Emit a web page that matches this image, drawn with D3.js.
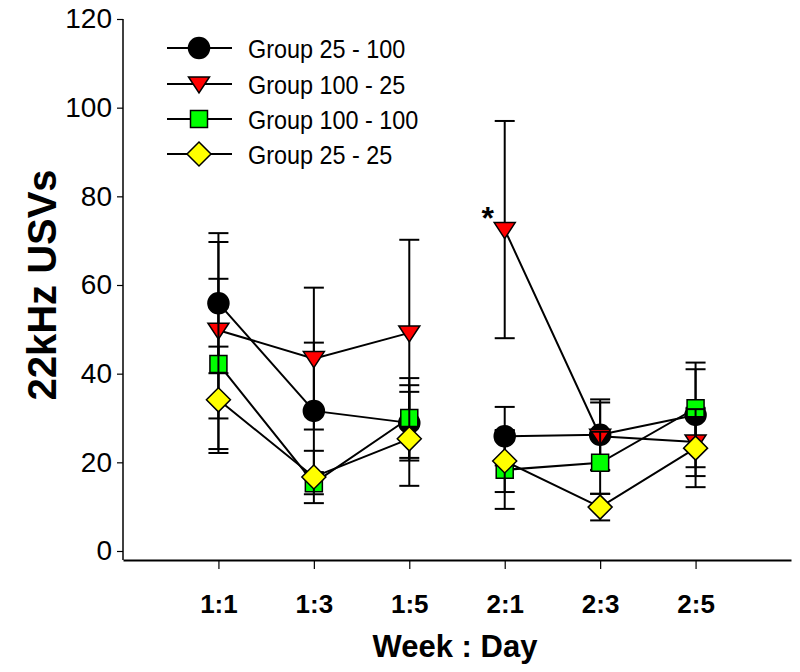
<!DOCTYPE html>
<html>
<head>
<meta charset="utf-8">
<script src="https://cdn.jsdelivr.net/npm/d3@7"></script>
<style>
  html, body { margin: 0; padding: 0; background: #fff; }
  svg { display: block; }
  text { font-family: "Liberation Sans", Arial, sans-serif; }
</style>
</head>
<body>
<script>
// ---- data ----
const categories = ["1:1", "1:3", "1:5", "2:1", "2:3", "2:5"];
const yTicks = [0, 20, 40, 60, 80, 100, 120];
const seriesNames = ["Group 25 - 100", "Group 100 - 25", "Group 100 - 100", "Group 25 - 25"];
const g25_100_mean = [55.9, 31.6, 28.9, 25.9, 26.2, 30.7];
const g25_100_sem  = [15.8, 15.4, 8.5, 6.6, 8.0, 11.8];
const g100_25_mean = [49.8, 43.4, 49.2, 72.5, 25.9, 24.6];
const g100_25_sem  = [19.9, 16.0, 21.0, 24.5, 7.6, 7.7];
const g100_100_mean = [42.2, 15.3, 30.0, 18.3, 19.9, 32.2];
const g100_100_sem  = [19.2, 2.5, 9.0, 8.8, 7.0, 8.8];
const g25_25_mean = [34.1, 16.7, 25.3, 20.3, 9.9, 23.2];
const g25_25_sem  = [12.0, 5.9, 10.6, 7.0, 3.0, 8.8];
const segments = [[0, 1, 2], [3, 4, 5]];
const significance = [{ series: 1, index: 3, label: "*" }];

// ---- styles ----
const fills = ["#000000", "#ff0000", "#00ff00", "#ffff00"];
const shapes = ["circle", "triangle", "square", "diamond"];
const means = [g25_100_mean, g100_25_mean, g100_100_mean, g25_25_mean];
const sems = [g25_100_sem, g100_25_sem, g100_100_sem, g25_25_sem];

const W = 800, H = 672;
const svg = d3.select("body").append("svg").attr("width", W).attr("height", H);

const x = d3.scaleLinear().domain([0, 7]).range([123, 791]);
const y = d3.scaleLinear().domain([0, 120]).range([551, 19]);
const axisY = 560;

function markerPath(shape) {
  switch (shape) {
    case "circle": return d3.symbol().type(d3.symbolCircle).size(Math.PI * 10.5 * 10.5)();
    case "triangle": return "M-10.5,-7L10.5,-7L0,9Z";
    case "square": return "M-8.5,-8.5H8.5V8.5H-8.5Z";
    case "diamond": return "M0,-12L12,0L0,12L-12,0Z";
  }
}

// ---- axes ----
const yAxis = d3.axisLeft(y).tickValues(yTicks).tickSize(6).tickSizeOuter(0).tickPadding(5);
const gy = svg.append("g").attr("transform", "translate(123,0)").call(yAxis);
gy.select(".domain").remove();
gy.selectAll(".tick line").attr("stroke", "#000").attr("stroke-width", 1.2);
gy.selectAll(".tick text").attr("font-size", 28).attr("fill", "#000")
  .attr("font-family", "Liberation Sans, Arial, sans-serif");
svg.append("line").attr("x1", 123).attr("x2", 123).attr("y1", y(120)).attr("y2", axisY)
  .attr("stroke", "#000").attr("stroke-width", 1.5);

const xAxis = d3.axisBottom(x).tickValues(d3.range(1, 7)).tickFormat(d => categories[d - 1])
  .tickSize(9).tickSizeOuter(0);
const gx = svg.append("g").attr("transform", `translate(0,${axisY})`).call(xAxis);
gx.select(".domain").attr("stroke", "#000").attr("stroke-width", 2);
gx.selectAll(".tick line").attr("stroke", "#000").attr("stroke-width", 1.2);
gx.selectAll(".tick text").attr("font-size", 26).attr("font-weight", "bold").attr("fill", "#000")
  .attr("y", 53).attr("dy", 0)
  .attr("font-family", "Liberation Sans, Arial, sans-serif");

// axis titles
svg.append("text").attr("x", 455).attr("y", 657).attr("text-anchor", "middle")
  .attr("font-size", 31).attr("font-weight", "bold").text("Week : Day");
svg.append("text").attr("transform", `translate(56,${(y(120) + y(0)) / 2}) rotate(-90)`)
  .attr("text-anchor", "middle").attr("font-size", 40).attr("font-weight", "bold").text("22kHz USVs");

// ---- series ----
const line = d3.line().x(d => x(d.i + 1)).y(d => y(d.v));
means.forEach((m, s) => {
  const g = svg.append("g");
  const pts = m.map((v, i) => ({ i, v, e: sems[s][i] }));
  // error bars
  const eb = g.selectAll(".eb").data(pts).enter().append("g");
  eb.append("line").attr("x1", d => x(d.i + 1)).attr("x2", d => x(d.i + 1))
    .attr("y1", d => y(d.v + d.e)).attr("y2", d => y(d.v - d.e))
    .attr("stroke", "#000").attr("stroke-width", 2);
  [1, -1].forEach(sg => {
    eb.append("line").attr("x1", d => x(d.i + 1) - 10).attr("x2", d => x(d.i + 1) + 10)
      .attr("y1", d => y(d.v + sg * d.e)).attr("y2", d => y(d.v + sg * d.e))
      .attr("stroke", "#000").attr("stroke-width", 2);
  });
  // lines
  segments.forEach(seg => {
    g.append("path").attr("d", line(seg.map(i => pts[i])))
      .attr("fill", "none").attr("stroke", "#000").attr("stroke-width", 2);
  });
  // markers
  g.selectAll(".mk").data(pts).enter().append("path")
    .attr("transform", d => `translate(${x(d.i + 1)},${y(d.v)})`)
    .attr("d", markerPath(shapes[s]))
    .attr("fill", fills[s]).attr("stroke", "#000").attr("stroke-width", 1.5);
});

// significance marks
significance.forEach(a => {
  svg.append("text").attr("x", x(a.index + 1) - 17).attr("y", y(means[a.series][a.index]) - 1)
    .attr("text-anchor", "middle").attr("font-size", 32).attr("font-weight", "bold").text(a.label);
});

// ---- legend ----
const legY = [48, 84, 119, 154];
seriesNames.forEach((name, s) => {
  const g = svg.append("g").attr("transform", `translate(0,${legY[s]})`);
  g.append("line").attr("x1", 167).attr("x2", 232).attr("y1", 0).attr("y2", 0)
    .attr("stroke", "#000").attr("stroke-width", 2);
  g.append("path").attr("transform", "translate(199,0)").attr("d", markerPath(shapes[s]))
    .attr("fill", fills[s]).attr("stroke", "#000").attr("stroke-width", 1.5);
  g.append("text").attr("transform", "translate(248,9.5) scale(0.9,1)")
    .attr("font-size", 26).attr("fill", "#000").text(name);
});
</script>
</body>
</html>
